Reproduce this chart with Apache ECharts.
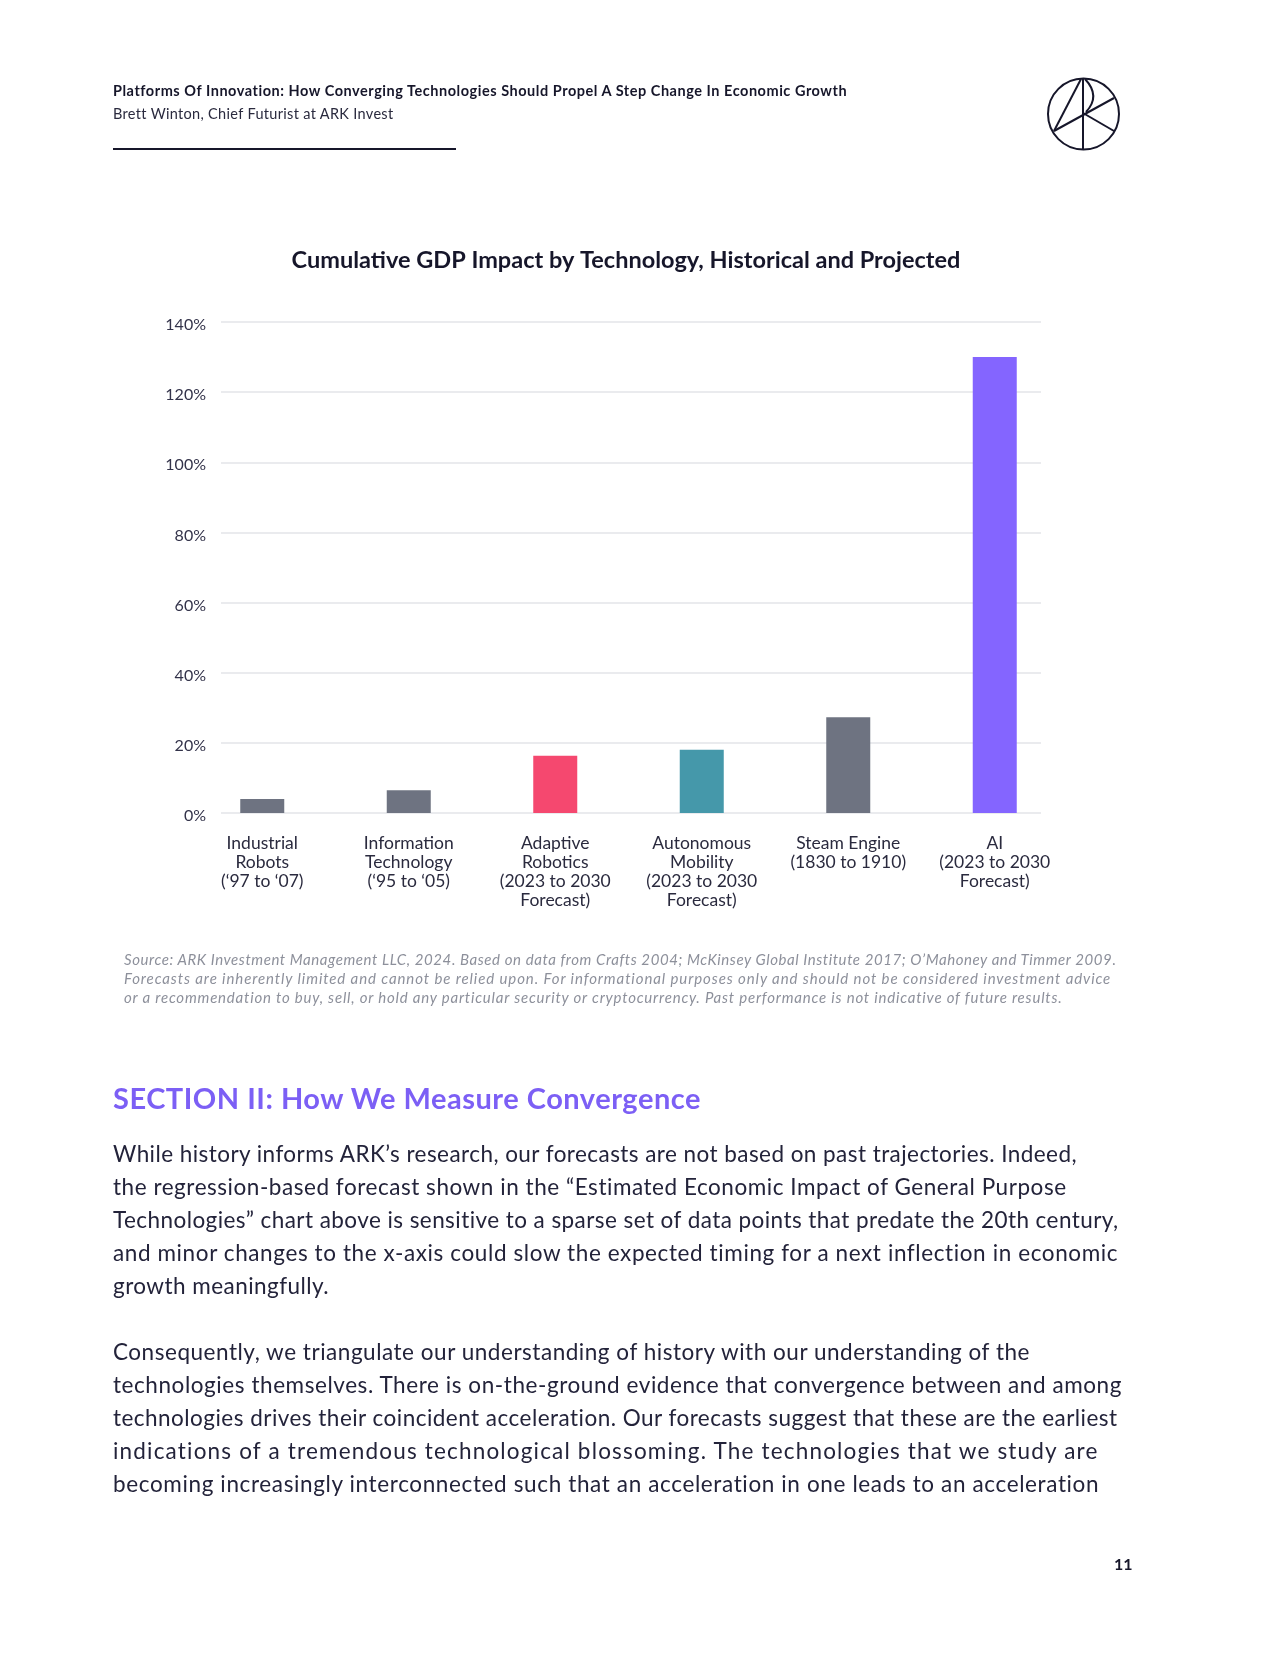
<!DOCTYPE html>
<html>
<head>
<meta charset="utf-8">
<script src="https://cdn.jsdelivr.net/npm/echarts@6/dist/echarts.min.js"></script>
<style>
  html, body { margin:0; padding:0; background:#fff; }
  #page { position:relative; width:1280px; height:1656px; overflow:hidden; font-family: Lato, "Open Sans", sans-serif; color:#22223a; }
  #chart { position:absolute; left:0; top:0; width:1280px; height:1656px; }
  .t { position:absolute; white-space:nowrap; }
  .body { font-size:22.5px; line-height:33px; color:#23233a; left:113px; }
  .foot { font-size:15px; line-height:19px; color:#8d909b; font-style:italic; left:124px; }
</style>
</head>
<body>
<div id="page">
  <div id="chart"></div>
  <div class="t" data-w="734" style="left:113px; top:82px; font-size:14.5px; line-height:18px; font-weight:700; color:#16162a;">Platforms Of Innovation: How Converging Technologies Should Propel A Step Change In Economic Growth</div>
  <div class="t" data-w="280" style="left:113px; top:105px; font-size:14.5px; line-height:18px; color:#2a2a3e;">Brett Winton, Chief Futurist at ARK Invest</div>
  <div style="position:absolute; left:113px; top:148px; width:343px; height:2px; background:#16162a;"></div>
  <svg style="position:absolute; left:1040px; top:70px;" width="90" height="90" viewBox="1040 70 90 90">
    <g fill="none" stroke="#16162a" stroke-width="2">
      <circle cx="1083.5" cy="114" r="35.5"/>
      <line x1="1083" y1="78.5" x2="1083" y2="149.5"/>
      <line x1="1081" y1="79" x2="1054" y2="131"/>
      <line x1="1054" y1="131" x2="1114" y2="98"/>
      <line x1="1083" y1="113" x2="1114" y2="131"/>
      <path d="M1085,79 Q1101,96 1086,112"/>
    </g>
  </svg>

  <div class="t foot" data-w="992" style="top:950px;">Source: ARK Investment Management LLC, 2024. Based on data from Crafts 2004; McKinsey Global Institute 2017; O’Mahoney and Timmer 2009.</div>
  <div class="t foot" data-w="987" style="top:969px;">Forecasts are inherently limited and cannot be relied upon. For informational purposes only and should not be considered investment advice</div>
  <div class="t foot" data-w="938" style="top:988px;">or a recommendation to buy, sell, or hold any particular security or cryptocurrency. Past performance is not indicative of future results.</div>

  <div class="t" data-w="588" style="left:113px; top:1080px; font-size:29px; line-height:36px; font-weight:700; color:#7c5ff5;">SECTION II: How We Measure Convergence</div>

  <div class="t body" data-w="964" style="top:1137px;">While history informs ARK’s research, our forecasts are not based on past trajectories. Indeed,</div>
  <div class="t body" data-w="954" style="top:1170px;">the regression-based forecast shown in the “Estimated Economic Impact of General Purpose</div>
  <div class="t body" data-w="1006" style="top:1203px;">Technologies” chart above is sensitive to a sparse set of data points that predate the 20th century,</div>
  <div class="t body" data-w="1006" style="top:1236px;">and minor changes to the x-axis could slow the expected timing for a next inflection in economic</div>
  <div class="t body" data-w="216" style="top:1269px;">growth meaningfully.</div>

  <div class="t body" data-w="917" style="top:1335px;">Consequently, we triangulate our understanding of history with our understanding of the</div>
  <div class="t body" data-w="1009" style="top:1368px;">technologies themselves. There is on-the-ground evidence that convergence between and among</div>
  <div class="t body" data-w="1005" style="top:1401px;">technologies drives their coincident acceleration. Our forecasts suggest that these are the earliest</div>
  <div class="t body" data-w="986" style="top:1434px;">indications of a tremendous technological blossoming. The technologies that we study are</div>
  <div class="t body" data-w="987" style="top:1467px;">becoming increasingly interconnected such that an acceleration in one leads to an acceleration</div>

  <div class="t" style="left:1114px; top:1554px; font-size:16px; line-height:20px; font-weight:700; color:#16162a;">11</div>
</div>
<script>
// ---- data ----
const categories = [
  "Industrial\nRobots\n(‘97 to ‘07)",
  "Information\nTechnology\n(‘95 to ‘05)",
  "Adaptive\nRobotics\n(2023 to 2030\nForecast)",
  "Autonomous\nMobility\n(2023 to 2030\nForecast)",
  "Steam Engine\n(1830 to 1910)",
  "AI\n(2023 to 2030\nForecast)"
];
const gdpImpact = [4, 6.5, 16.3, 18, 27.3, 130];
const barColors = ["#6e7381", "#6e7381", "#f5486f", "#4598aa", "#6e7381", "#8465ff"];
const yTicks = [0, 20, 40, 60, 80, 100, 120, 140];
const chartTitle = "Cumulative GDP Impact by Technology, Historical and Projected";

// ---- fit text lines to measured widths ----
document.querySelectorAll('[data-w]').forEach(el => {
  const target = parseFloat(el.dataset.w);
  const w = el.getBoundingClientRect().width;
  const n = el.textContent.length;
  el.style.letterSpacing = ((target - w) / n) + 'px';
});

// ---- chart ----
const chart = echarts.init(document.getElementById('chart'), null, {renderer: 'canvas'});
const font = 'Lato, "Open Sans", sans-serif';
chart.setOption({
  backgroundColor: 'transparent',
  animation: false,
  title: {
    text: chartTitle,
    left: 621, top: 243, textAlign: 'center',
    textStyle: { fontFamily: font, fontSize: 23.5, fontWeight: 'bold', color: '#16162a' }
  },
  grid: [
    { left: 221, right: 239, top: 322, bottom: 843 },
    { left: 189, right: 212, top: 322, bottom: 843 }
  ],
  xAxis: [
    { gridIndex: 0, type: 'category', data: categories, show: false },
    { gridIndex: 1, type: 'category', data: categories,
      axisLine: { show: false }, axisTick: { show: false },
      axisLabel: { interval: 0, margin: 21, fontFamily: font, fontSize: 17.5, lineHeight: 19, color: '#2a2a3e' } }
  ],
  yAxis: [
    { gridIndex: 0, type: 'value', min: yTicks[0], max: yTicks[yTicks.length - 1], interval: yTicks[1] - yTicks[0],
      axisLine: { show: false }, axisTick: { show: false },
      axisLabel: { formatter: '{value}%', margin: 15, fontFamily: font, fontSize: 16, color: '#33334a',
                   verticalAlign: 'top', lineHeight: 6 },
      splitLine: { show: true, lineStyle: { color: '#e3e4e9', width: 1.5 } } },
    { gridIndex: 1, type: 'value', min: yTicks[0], max: yTicks[yTicks.length - 1], interval: yTicks[1] - yTicks[0],
      show: false, splitLine: { show: false } }
  ],
  series: [{
    type: 'bar', xAxisIndex: 1, yAxisIndex: 1,
    barWidth: 44,
    data: gdpImpact.map((v, i) => ({ value: v, itemStyle: { color: barColors[i] } }))
  }]
});
</script>
</body>
</html>
